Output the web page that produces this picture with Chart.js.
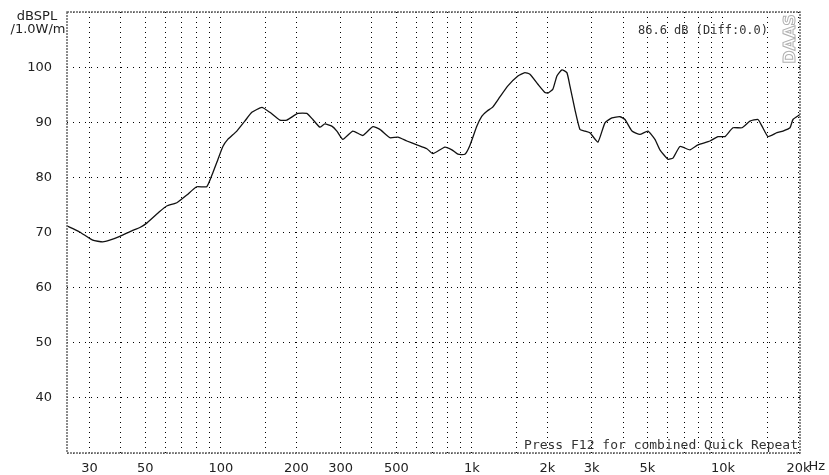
<!DOCTYPE html>
<html>
<head>
<meta charset="utf-8">
<script src="https://cdn.jsdelivr.net/npm/chart.js@4.4.1/dist/chart.umd.min.js"></script>
<style>
  html, body { margin: 0; padding: 0; background: #ffffff; }
  #wrap { width: 829px; height: 475px; position: relative; }
</style>
</head>
<body>
<div id="wrap"><canvas id="fr"></canvas></div>
<script>
// frequency response (Hz, dB SPL)
const freqHz = [24.4, 27.4, 30.9, 33.9, 36.1, 39.6, 44.2, 47.6, 50.7, 57.1,
  60.9, 66.8, 73.2, 80.2, 87.9, 92.9, 97.3, 101.9, 106.6, 115.8,
  124.6, 132.9, 145.7, 156.8, 171.8, 183.2, 202.7, 220.1, 232.6, 248.0,
  259.7, 276.8, 289.9, 306.2, 335.7, 367.9, 403.3, 430.1, 471.4, 507.4,
  550.8, 603.8, 661.9, 699.4, 780.5, 832.3, 879.5, 937.8, 981.8, 1047,
  1096, 1148, 1213, 1293, 1391, 1525, 1626, 1703, 1832, 1954,
  2008, 2102, 2181, 2284, 2390, 2457, 2573, 2694, 2820, 2953,
  3177, 3388, 3613, 3887, 4071, 4341, 4670, 5025, 5359, 5610,
  6037, 6322, 6742, 7388, 7952, 8877, 9553, 10186, 10960, 11903,
  12810, 13786, 14301, 15113, 16411, 17338, 18491, 19007, 20270];
const splDb = [71.2, 70.1, 68.6, 68.3, 68.6, 69.3, 70.3, 70.9, 71.7, 73.8,
  74.8, 75.4, 76.8, 78.3, 78.3, 80.8, 83.2, 85.6, 86.9, 88.4,
  90.2, 91.8, 92.7, 91.8, 90.4, 90.4, 91.6, 91.6, 90.5, 89.1,
  89.7, 89.3, 88.4, 86.9, 88.4, 87.6, 89.2, 88.7, 87.2, 87.3,
  86.6, 85.9, 85.2, 84.3, 85.5, 85.0, 84.2, 84.2, 85.8, 89.3,
  91.1, 92.0, 92.8, 94.6, 96.6, 98.4, 99.0, 98.7, 96.9, 95.4,
  95.3, 96.0, 98.4, 99.5, 99.0, 96.6, 92.3, 88.7, 88.4, 88.1,
  86.4, 89.9, 90.8, 91.0, 90.5, 88.4, 87.8, 88.4, 86.9, 85.0,
  83.3, 83.5, 85.6, 85.0, 85.9, 86.6, 87.4, 87.4, 89.0, 89.0,
  90.2, 90.5, 89.3, 87.4, 88.1, 88.4, 89.0, 90.5, 91.4];

// vertical grid positions and the labelled ones
const gridFreqs = [30, 40, 50, 60, 70, 80, 90, 100, 150, 200, 300, 400, 500, 600, 700, 800, 900,
  1000, 1500, 2000, 3000, 4000, 5000, 6000, 7000, 8000, 9000, 10000, 15000, 20000];
const xTickValues = [30, 50, 100, 200, 300, 500, 1000, 2000, 3000, 5000, 10000, 20000];
const xTickLabels = ['30', '50', '100', '200', '300', '500', '1k', '2k', '3k', '5k', '10k', '20k'];
const yTickValues = [40, 50, 60, 70, 80, 90, 100];

const dotColor = '#000000';
const txtColor = '#222222';

const decor = {
  id: 'decor',
  afterDraw(chart) {
    const ctx = chart.ctx, a = chart.chartArea;
    ctx.save();
    // frame
    ctx.strokeStyle = '#666';
    ctx.lineWidth = 1.5;
    ctx.setLineDash([2, 1]);
    ctx.strokeRect(a.left, a.top, a.right - a.left, a.bottom - a.top);
    ctx.setLineDash([]);

    ctx.fillStyle = txtColor;
    ctx.font = '13px "DejaVu Sans"';
    ctx.textAlign = 'center';
    ctx.textBaseline = 'middle';
    ctx.fillText('dBSPL', 37, 17);
    ctx.fillText('/1.0W/m', 38, 30);

    // unit after the last tick label
    const x20k = chart.scales.x.getPixelForValue(20000);
    ctx.textAlign = 'left';
    ctx.fillText('Hz', x20k + 10, 467);

    ctx.font = '12px "DejaVu Sans Mono"';
    ctx.fillStyle = '#333';
    ctx.textAlign = 'left';
    ctx.fillText('86.6 dB (Diff:0.0)', 638, 31);

    ctx.font = '13px "DejaVu Sans Mono"';
    ctx.textAlign = 'right';
    ctx.fillText('Press F12 for combined Quick Repeat', a.right - 2, 446);

    // vertical logo
    ctx.translate(791, 39);
    ctx.rotate(-Math.PI / 2);
    ctx.font = 'bold 16px "DejaVu Sans"';
    ctx.textAlign = 'center';
    ctx.strokeStyle = '#b0b0b0';
    ctx.lineWidth = 1;
    ctx.strokeText('DAAS', 0, 0);
    ctx.restore();
  }
};

new Chart(document.getElementById('fr'), {
  type: 'line',
  data: {
    datasets: [{
      data: freqHz.map((f, i) => ({ x: f, y: splDb[i] })),
      borderColor: '#111',
      borderWidth: 1.3,
      pointRadius: 0,
      tension: 0.15,
      fill: false
    }]
  },
  options: {
    responsive: true,
    maintainAspectRatio: false,
    animation: false,
    layout: { padding: { top: 12, right: 29, left: 0, bottom: 0 } },
    plugins: { legend: { display: false }, tooltip: { enabled: false } },
    scales: {
      x: {
        type: 'logarithmic',
        min: 24.4,
        max: 20270,
        afterBuildTicks(scale) {
          scale.ticks = gridFreqs.map(v => ({ value: v }));
        },
        afterFit(scale) {
          scale.height = 22;
          scale.paddingLeft = 0;
          scale.paddingRight = 0;
        },
        grid: { color: dotColor, lineWidth: 1, drawTicks: false },
        border: { display: false, dash: [1, 4] },
        ticks: {
          autoSkip: false,
          maxRotation: 0,
          padding: 8,
          color: txtColor,
          font: { family: 'DejaVu Sans', size: 13 },
          callback(v) {
            const i = xTickValues.indexOf(v);
            return i >= 0 ? xTickLabels[i] : '';
          }
        }
      },
      y: {
        min: 30,
        max: 110,
        afterFit(scale) {
          scale.width = 67;
          scale.paddingTop = 0;
          scale.paddingBottom = 0;
        },
        grid: { color: dotColor, lineWidth: 1, drawTicks: false },
        border: { display: false, dash: [1, 5] },
        ticks: {
          stepSize: 10,
          padding: 15,
          color: txtColor,
          font: { family: 'DejaVu Sans', size: 13 },
          callback(v) { return yTickValues.includes(v) ? String(v) : ''; }
        }
      }
    }
  },
  plugins: [decor]
});
</script>
</body>
</html>
